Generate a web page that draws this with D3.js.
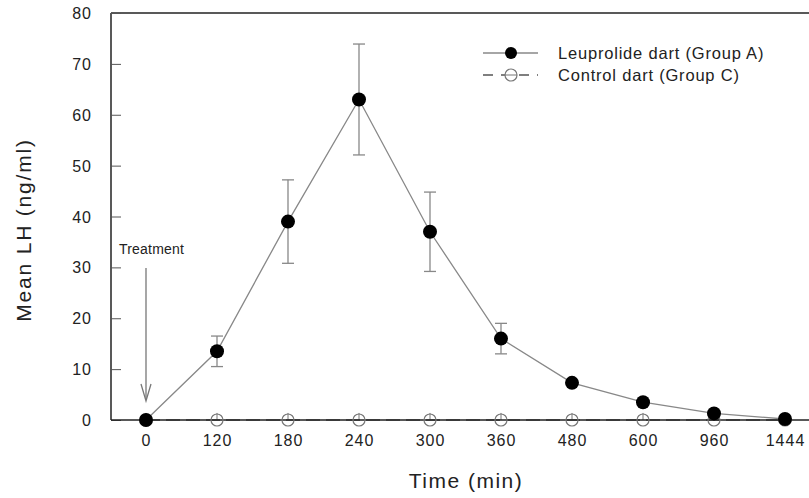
<!DOCTYPE html>
<html lang="en">
<head>
<meta charset="utf-8">
<title>Mean LH</title>
<script src="https://d3js.org/d3.v7.min.js"></script>
<style>
  body { margin: 0; background: #fff; }
  svg text { font-family: Arial, "Liberation Sans", sans-serif; fill: #222; }
</style>
</head>
<body>
<div id="chart"></div>
<script>
// data
var times = ["0", "120", "180", "240", "300", "360", "480", "600", "960", "1444"];
var groupA = [0, 13.5, 39, 63, 37, 16, 7.3, 3.5, 1.3, 0.2];
var groupAErr = [0, 3, 8.2, 10.9, 7.8, 3, 0, 0, 0, 0];
var groupC = [0, 0, 0, 0, 0, 0, 0, 0, 0, 0];
var groupCErr = [0.6, 0.6, 0.6, 0.6, 0.6, 0.6, 0.6, 0.6, 0.6, 0.6];
var yTicks = [0, 10, 20, 30, 40, 50, 60, 70, 80];

var W = 809, H = 498;
var margin = {top: 13, right: 0, bottom: 78, left: 111};
var width = W - margin.left - margin.right;
var height = H - margin.top - margin.bottom;

var svg = d3.select("#chart").append("svg")
  .attr("width", W).attr("height", H);

var g = svg.append("g")
  .attr("transform", "translate(" + margin.left + "," + margin.top + ")");

var x = d3.scalePoint().domain(times).range([35, 674]);
var y = d3.scaleLinear().domain([0, 80]).range([height, 0]);

// frame: left, top
g.append("line").attr("x1", 0).attr("x2", 0).attr("y1", 0).attr("y2", height)
  .attr("stroke", "#222").attr("stroke-width", 1.5);
g.append("line").attr("x1", 0).attr("x2", width).attr("y1", 0).attr("y2", 0)
  .attr("stroke", "#222").attr("stroke-width", 1.5);

// y axis with inward ticks
var yAxis = d3.axisRight(y).tickValues(yTicks).tickSize(10).tickFormat(d3.format("d"));
var ya = g.append("g").call(yAxis);
ya.select(".domain").remove();
ya.selectAll("line").attr("stroke", "#555");
ya.selectAll("text").attr("x", -19).attr("text-anchor", "end")
  .style("font-size", "16px").style("letter-spacing", "1px").attr("dy", "0.35em");

// x axis: labels only
var xa = g.append("g").attr("transform", "translate(0," + height + ")")
  .call(d3.axisBottom(x).tickSize(0));
xa.select(".domain").remove();
xa.selectAll("text").attr("y", 15).attr("dy", "0.71em")
  .style("font-size", "16px").style("letter-spacing", "1px");

// axis titles
svg.append("text").attr("x", 466).attr("y", 488).attr("text-anchor", "middle")
  .style("font-size", "21px").style("letter-spacing", "1.5px").text("Time (min)");
svg.append("text").attr("transform", "translate(31,230) rotate(-90)")
  .attr("text-anchor", "middle").style("font-size", "21px").style("letter-spacing", "1.8px")
  .text("Mean LH (ng/ml)");

var line = d3.line().x(function(d, i) { return x(times[i]); }).y(function(d) { return y(d); });

// control group C: dashed line, open circles
g.append("path").datum(groupC).attr("d", line)
  .attr("fill", "none").attr("stroke", "#555").attr("stroke-width", 1.5)
  .attr("stroke-dasharray", "14,6");
g.selectAll(".errC").data(groupC).enter().append("line")
  .attr("x1", function(d, i) { return x(times[i]); })
  .attr("x2", function(d, i) { return x(times[i]); })
  .attr("y1", function(d) { return y(d); })
  .attr("y2", function(d, i) { return y(d + groupCErr[i]) - 4; })
  .attr("stroke", "#777").attr("stroke-width", 1);

// bottom axis line
g.append("line").attr("x1", 0).attr("x2", width).attr("y1", height).attr("y2", height)
  .attr("stroke", "#222").attr("stroke-width", 1.5);

g.selectAll(".ptC").data(groupC).enter().append("circle")
  .attr("cx", function(d, i) { return x(times[i]); })
  .attr("cy", function(d) { return y(d); })
  .attr("r", 6).attr("fill", "none").attr("stroke", "#777").attr("stroke-width", 1.2);

// group A: error bars
var capW = 6;
var errA = g.selectAll(".errA").data(groupA).enter().append("g")
  .filter(function(d, i) { return groupAErr[i] > 0; });
errA.append("line")
  .attr("x1", function(d) { return x(times[groupA.indexOf(d)]); })
  .attr("x2", function(d) { return x(times[groupA.indexOf(d)]); })
  .attr("y1", function(d) { return y(d - groupAErr[groupA.indexOf(d)]); })
  .attr("y2", function(d) { return y(d + groupAErr[groupA.indexOf(d)]); })
  .attr("stroke", "#888").attr("stroke-width", 1.3);
[-1, 1].forEach(function(s) {
  errA.append("line")
    .attr("x1", function(d) { return x(times[groupA.indexOf(d)]) - capW; })
    .attr("x2", function(d) { return x(times[groupA.indexOf(d)]) + capW; })
    .attr("y1", function(d) { return y(d + s * groupAErr[groupA.indexOf(d)]); })
    .attr("y2", function(d) { return y(d + s * groupAErr[groupA.indexOf(d)]); })
    .attr("stroke", "#888").attr("stroke-width", 1.3);
});

g.append("path").datum(groupA).attr("d", line)
  .attr("fill", "none").attr("stroke", "#888").attr("stroke-width", 1.3);
g.selectAll(".ptA").data(groupA).enter().append("circle")
  .attr("cx", function(d, i) { return x(times[i]); })
  .attr("cy", function(d) { return y(d); })
  .attr("r", 7).attr("fill", "#000");

// treatment arrow
svg.append("text").attr("x", 119).attr("y", 254)
  .style("font-size", "14px").style("letter-spacing", "0.2px")
  .text("Treatment");
var ax = margin.left + x("0");
svg.append("line").attr("x1", ax).attr("x2", ax).attr("y1", 268).attr("y2", 400)
  .attr("stroke", "#777").attr("stroke-width", 1.3);
svg.append("path").attr("d", "M" + (ax - 5) + ",384 L" + ax + ",401 L" + (ax + 5) + ",384")
  .attr("fill", "none").attr("stroke", "#777").attr("stroke-width", 1.3);

// legend
var lg = svg.append("g");
lg.append("line").attr("x1", 483).attr("x2", 538).attr("y1", 53).attr("y2", 53)
  .attr("stroke", "#888").attr("stroke-width", 1.3);
lg.append("circle").attr("cx", 511).attr("cy", 53).attr("r", 6).attr("fill", "#000");
lg.append("text").attr("x", 558).attr("y", 53).attr("dy", "0.35em")
  .style("font-size", "16.5px").style("letter-spacing", "0.8px").text("Leuprolide dart (Group A)");
lg.append("line").attr("x1", 483).attr("x2", 538).attr("y1", 75).attr("y2", 75)
  .attr("stroke", "#555").attr("stroke-width", 1.3).attr("stroke-dasharray", "10,8");
lg.append("circle").attr("cx", 511).attr("cy", 75).attr("r", 6)
  .attr("fill", "#fff").attr("stroke", "#777").attr("stroke-width", 1.2);
lg.append("line").attr("x1", 505).attr("x2", 517).attr("y1", 75).attr("y2", 75)
  .attr("stroke", "#777").attr("stroke-width", 1);
lg.append("text").attr("x", 558).attr("y", 75).attr("dy", "0.35em")
  .style("font-size", "16.5px").style("letter-spacing", "0.8px").text("Control dart (Group C)");
</script>
</body>
</html>
